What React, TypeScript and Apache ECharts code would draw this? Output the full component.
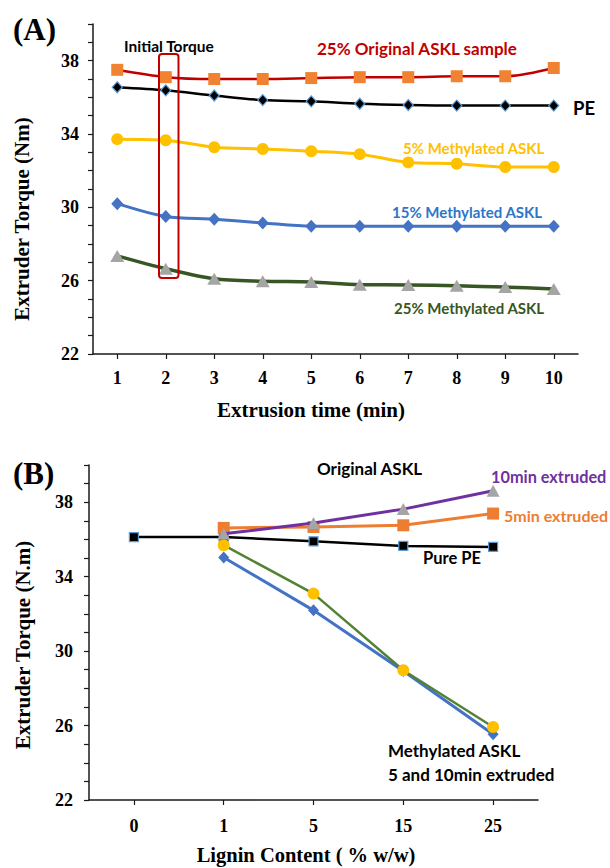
import React, { useEffect, useRef } from 'react';
import * as echarts from 'echarts';

// ---- Chart (A): torque vs extrusion time ----
const timeCats = ['1', '2', '3', '4', '5', '6', '7', '8', '9', '10'];
const orig25 = [37.5, 37.1, 37.0, 37.0, 37.05, 37.1, 37.1, 37.15, 37.15, 37.6];
const peA = [36.55, 36.38, 36.1, 35.85, 35.78, 35.65, 35.58, 35.55, 35.55, 35.55];
const meth5 = [33.72, 33.66, 33.28, 33.18, 33.06, 32.9, 32.45, 32.38, 32.2, 32.2];
const meth15 = [30.2, 29.5, 29.35, 29.15, 28.97, 28.97, 28.97, 28.97, 28.97, 28.97];
const meth25 = [27.35, 26.65, 26.1, 25.97, 25.93, 25.78, 25.77, 25.72, 25.65, 25.55];

// ---- Chart (B): torque vs lignin content ----
const ligninCats = ['0', '1', '5', '15', '25'];
const purePE = [36.13, 36.13, 35.9, 35.65, 35.6];
const orig5min = [null, 36.62, 36.67, 36.76, 37.39];
const orig10min = [null, 36.3, 36.88, 37.63, 38.62];
const methyl5min = [null, 35.69, 33.09, 28.97, 25.92];
const methyl10min = [null, 35.03, 32.19, 28.93, 25.53];

const yTickLabels = [22, 26, 30, 34, 38];
const yMin = 22;
const yMax = 40;

const SERIF = 'Liberation Serif';
const SANS = 'Lato';

export default function App() {
  const ref = useRef<HTMLDivElement>(null);
  useEffect(() => {
    document.body.style.margin = '0';
    if (!ref.current) return;
    const chart = echarts.init(ref.current, null, { renderer: 'svg' });

    const axisLine = { show: true, lineStyle: { color: '#1a1a1a', width: 1.5 } };
    const labelStyle = { fontFamily: SERIF, fontWeight: 'bold' as const, fontSize: 18, color: '#000' };

    const yAxisBase = (gridIndex: number, margin: number) => ({
      type: 'value',
      gridIndex,
      min: yMin,
      max: yMax,
      interval: 1,
      axisLine,
      axisTick: { show: true, inside: false, length: 5, lineStyle: { color: '#1a1a1a', width: 1.2 } },
      splitLine: { show: false },
      axisLabel: {
        ...labelStyle,
        margin,
        formatter: (v: number) => (yTickLabels.includes(v) ? String(v) : ''),
      },
    });

    const xAxisBase = (gridIndex: number, data: string[], margin: number) => ({
      type: 'category',
      gridIndex,
      data,
      boundaryGap: true,
      axisLine,
      axisTick: { show: true, alignWithLabel: true, length: 5, lineStyle: { color: '#1a1a1a', width: 1.2 } },
      axisLabel: { ...labelStyle, margin },
      splitLine: { show: false },
    });

    const line = (
      name: string,
      data: (number | null)[],
      idx: number,
      color: string,
      width: number,
      symbol: string,
      symbolSize: number | number[],
      mColor: string,
      mBorder?: string,
      smooth: number | boolean = false,
      z = 2,
    ) => ({
      name,
      type: 'line',
      xAxisIndex: idx,
      yAxisIndex: idx,
      data,
      smooth,
      symbol,
      symbolSize,
      showSymbol: true,
      connectNulls: false,
      z,
      lineStyle: { color, width },
      itemStyle: {
        color: mColor,
        borderColor: mBorder || mColor,
        borderWidth: mBorder ? 1.2 : 0,
      },
    });

    const txt = (
      text: string,
      x: number,
      y: number,
      fill: string,
      size: number,
      family = SANS,
      align = 'left',
      rotation = 0,
    ) => ({
      type: 'text',
      x,
      y,
      rotation,
      z: 100,
      style: {
        text,
        fill,
        font: `bold ${size}px "${family}"`,
        textAlign: align,
        textVerticalAlign: 'middle',
      },
    });

    chart.setOption({
      animation: false,
      backgroundColor: '#fff',
      grid: [
        { left: 93, top: 24, width: 485, height: 330 },
        { left: 89, top: 465, width: 449, height: 335 },
      ],
      xAxis: [xAxisBase(0, timeCats, 15), xAxisBase(1, ligninCats, 17)],
      yAxis: [yAxisBase(0, 14), yAxisBase(1, 16)],
      series: [
        line('25% Original ASKL sample', orig25, 0, '#C00000', 2.5, 'rect', 12, '#F08232', undefined, 0.3),
        line('PE', peA, 0, '#000', 2.5, 'diamond', [10, 11], '#000', '#5B9BD5', 0.3),
        line('5% Methylated ASKL', meth5, 0, '#FFC000', 3, 'circle', 12, '#FFC000', undefined, 0.3),
        line('15% Methylated ASKL', meth15, 0, '#4472C4', 3, 'diamond', [12, 13], '#4472C4', undefined, 0.3),
        line('25% Methylated ASKL', meth25, 0, '#375623', 3.5, 'triangle', [14, 12], '#A5A5A5', undefined, 0.3),

        line('Pure PE', purePE, 1, '#000', 2.5, 'rect', 9, '#000', '#5B9BD5', false, 2),
        line('Methylated 10min', methyl10min, 1, '#4472C4', 3, 'diamond', [11, 12], '#4472C4', undefined, false, 3),
        line('Methylated 5min', methyl5min, 1, '#548235', 2.5, 'circle', 12, '#FFC000', undefined, false, 4),
        line('Original 5min', orig5min, 1, '#ED7D31', 3, 'rect', 12, '#ED7D31', undefined, false, 5),
        line('Original 10min', orig10min, 1, '#7030A0', 3, 'triangle', [13, 12], '#A5A5A5', undefined, false, 6),
      ],
      graphic: [
        txt('(A)', 13, 29, '#000', 31, SERIF),
        txt('(B)', 13, 473, '#000', 31, SERIF),
        txt('Extrusion time (min)', 311, 410, '#000', 21, SERIF, 'center'),
        txt('Lignin Content ( % w/w)', 306, 855, '#000', 20.5, SERIF, 'center'),
        txt('Extruder Torque (Nm)', 22, 219, '#000', 21, SERIF, 'center', Math.PI / 2),
        txt('Extruder Torque (N.m)', 23, 645, '#000', 21, SERIF, 'center', Math.PI / 2),

        txt('Initial Torque', 124, 46, '#000', 15.5),
        txt('25% Original ASKL sample', 317, 48, '#C00000', 17),
        txt('PE', 573, 108, '#000', 18.5),
        txt('5% Methylated ASKL', 403, 148, '#FFC000', 15),
        txt('15% Methylated ASKL', 392, 212, '#2E75C8', 15),
        txt('25% Methylated ASKL', 394, 308, '#375623', 15),

        txt('Original ASKL', 317, 468, '#000', 17),
        txt('10min extruded', 491, 476, '#7030A0', 16.3),
        txt('5min extruded', 504, 515, '#ED7D31', 16),
        txt('Pure PE', 423, 558, '#000', 16.5),
        txt('Methylated ASKL', 388, 750, '#000', 17),
        txt('5 and 10min extruded', 388, 774, '#000', 17),

        {
          type: 'rect',
          z: 90,
          shape: { x: 159, y: 54, width: 19.5, height: 224, r: 3 },
          style: { fill: 'none', stroke: '#C00000', lineWidth: 2 },
        },
      ],
    });

    return () => chart.dispose();
  }, []);

  return <div ref={ref} style={{ width: 610, height: 868 }} />;
}
